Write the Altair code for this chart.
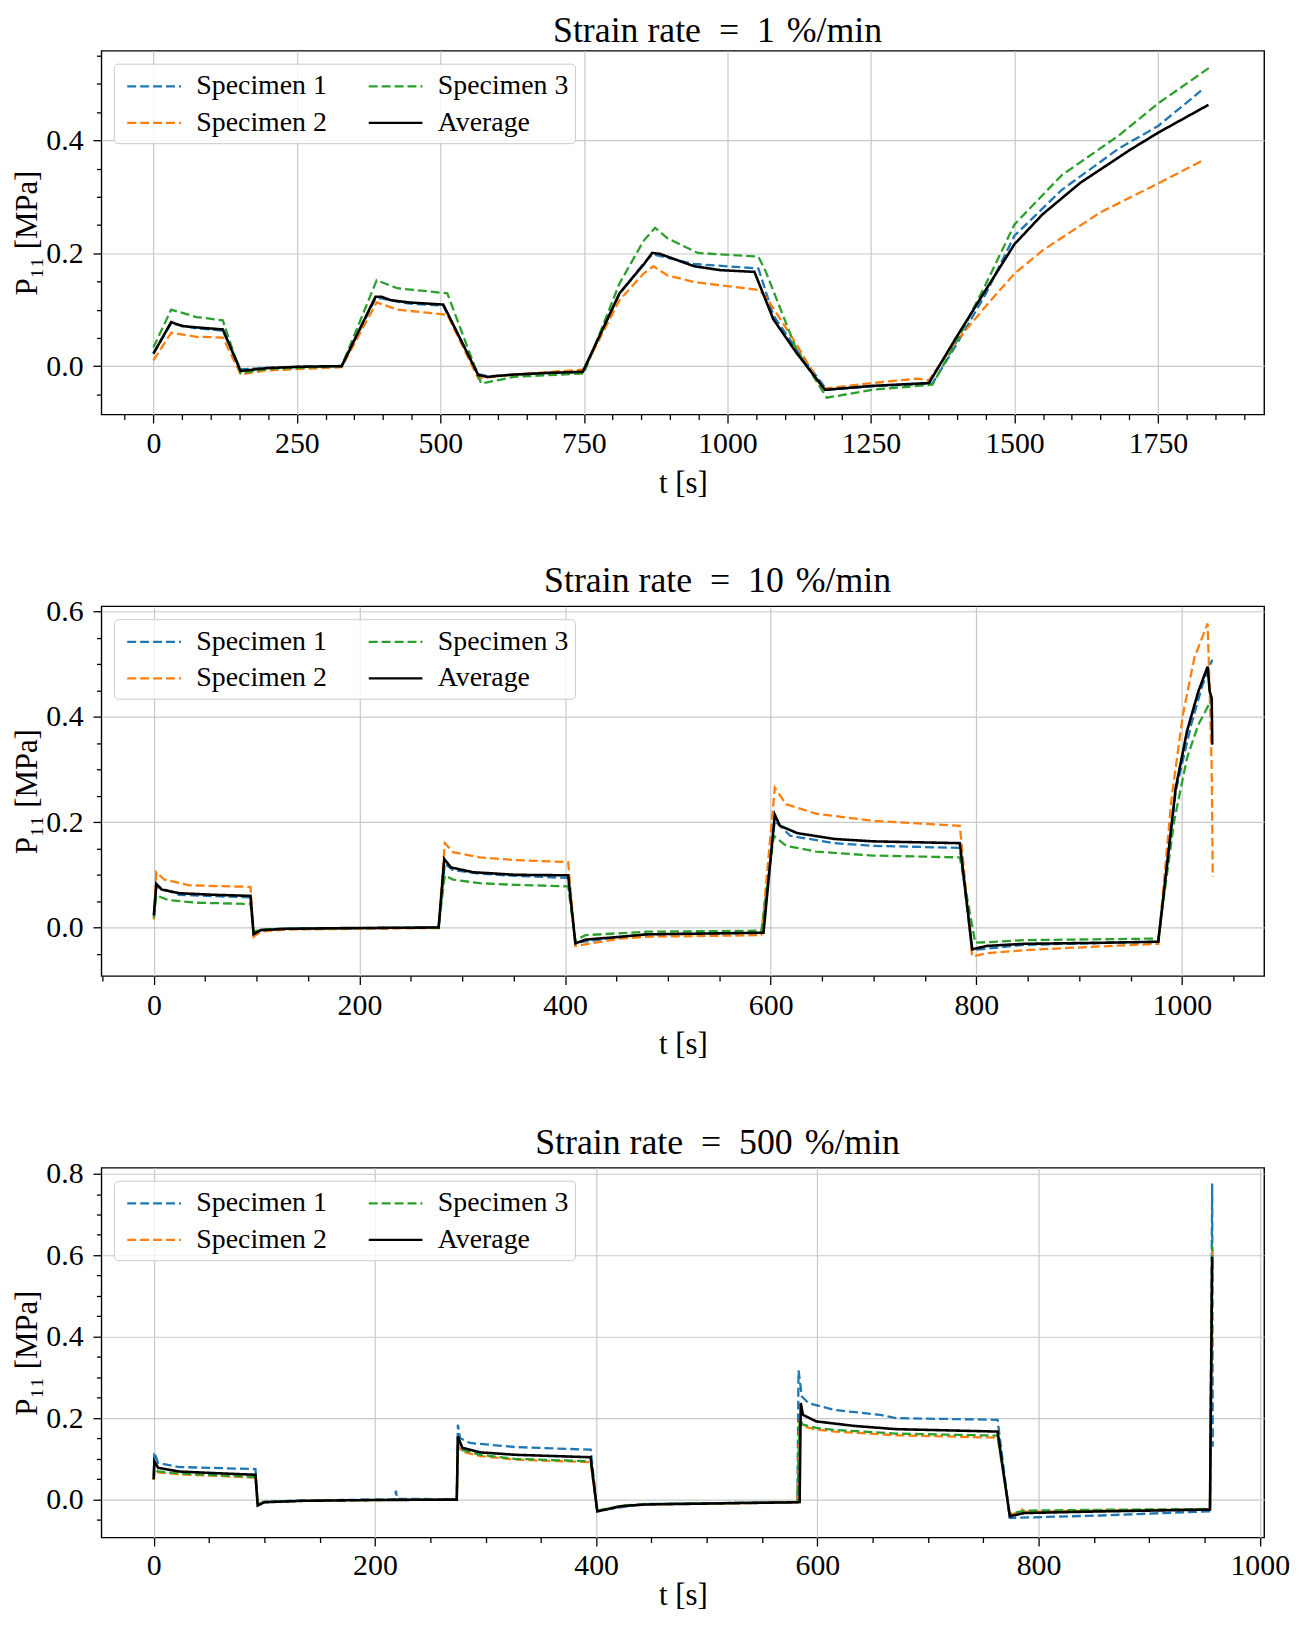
import altair as alt
import pandas as pd

# ---------------- legend / style categories ----------------
SERIES = ["Specimen 1", "Specimen 2", "Specimen 3", "Average"]
COLORS = ["#1f77b4", "#ff7f0e", "#2ca02c", "#000000"]
DASHES = [[9, 4], [9, 4], [9, 4], [1, 0]]

TITLES = ["Strain rate\u2002=\u20021\u2004%/min",
          "Strain rate\u2002=\u200210\u2004%/min",
          "Strain rate\u2002=\u2002500\u2004%/min"]

# ---------------- panel 1 : 1 %/min ----------------
r1_t_s1 = [0, 31, 75, 121, 152, 198, 259, 328, 387, 397, 443, 505, 566, 582, 628, 689, 748, 812, 854, 869,
           942, 1054, 1080, 1120, 1173, 1252, 1357, 1400, 1450, 1500, 1582, 1681, 1751, 1825]
r1_p_s1 = [0.022, 0.0756, 0.067, 0.063, -0.006, -0.003, -0.001, 0.0, 0.120, 0.120, 0.111, 0.107, -0.014, -0.018,
           -0.015, -0.012, -0.011, 0.128, 0.182, 0.198, 0.181, 0.173, 0.090, 0.030, -0.042, -0.036, -0.031, 0.040,
           0.128, 0.231, 0.312, 0.385, 0.426, 0.488]

r1_t_s2 = [0, 31, 75, 121, 152, 198, 328, 389, 425, 512, 566, 628, 750, 812, 854, 871, 895, 942, 1054, 1067,
           1120, 1166, 1252, 1331, 1351, 1397, 1450, 1500, 1549, 1649, 1751, 1831]
r1_p_s2 = [0.010, 0.059, 0.052, 0.0506, -0.0145, -0.0076, -0.002, 0.113, 0.100, 0.091, -0.022, -0.015, -0.006,
           0.117, 0.164, 0.177, 0.161, 0.149, 0.135, 0.123, 0.039, -0.040, -0.030, -0.022, -0.025, 0.042, 0.106,
           0.164, 0.205, 0.272, 0.324, 0.366]

r1_t_s3 = [0, 31, 75, 121, 152, 198, 328, 389, 425, 512, 571, 628, 750, 812, 854, 874, 895, 948, 1054, 1067,
           1120, 1173, 1252, 1357, 1400, 1450, 1500, 1582, 1681, 1751, 1844]
r1_p_s3 = [0.033, 0.100, 0.087, 0.081, -0.013, -0.005, 0.0, 0.152, 0.138, 0.129, -0.031, -0.019, -0.013, 0.1465,
           0.222, 0.245, 0.227, 0.2006, 0.194, 0.167, 0.030, -0.056, -0.042, -0.033, 0.045, 0.145, 0.251, 0.338,
           0.408, 0.466, 0.532]

r1_t_avg = [0, 31, 50, 75, 121, 152, 198, 259, 328, 387, 397, 413, 443, 505, 566, 582, 628, 689, 748, 812, 854,
            869, 882, 942, 988, 1047, 1080, 1120, 1170, 1252, 1351, 1397, 1450, 1500, 1549, 1615, 1701, 1751, 1838]
r1_p_avg = [0.022, 0.078, 0.071, 0.0686, 0.065, -0.0087, -0.0035, -0.001, 0.0, 0.123, 0.123, 0.117, 0.113, 0.109,
            -0.016, -0.019, -0.015, -0.012, -0.010, 0.129, 0.180, 0.2006, 0.199, 0.177, 0.170, 0.167, 0.083, 0.024,
            -0.042, -0.035, -0.030, 0.048, 0.135, 0.216, 0.269, 0.325, 0.383, 0.414, 0.463]

# ---------------- panel 2 : 10 %/min ----------------
r2_t_s1 = [0, 2.4, 25, 94, 97, 104, 128, 277, 283, 291, 317, 351, 403, 410, 454, 479, 591, 604, 619, 662, 699,
           784, 796, 846, 977, 994, 1009, 1020, 1029.5]
r2_p_s1 = [0.022, 0.078, 0.062, 0.057, -0.012, -0.005, -0.0025, 0.0, 0.121, 0.109, 0.102, 0.098, 0.094, -0.029,
           -0.018, -0.013, -0.010, 0.2025, 0.174, 0.160, 0.155, 0.151, -0.043, -0.033, -0.027, 0.259, 0.385, 0.460,
           0.508]

r2_t_s2 = [0, 2.4, 10, 35, 94, 97, 104, 128, 277, 283, 291, 317, 351, 403, 410, 454, 479, 591, 604, 615, 644, 699,
           784, 796, 810, 846, 920, 977, 990, 1001, 1012, 1025, 1027, 1029, 1030]
r2_p_s2 = [0.015, 0.105, 0.091, 0.080, 0.077, -0.0176, -0.008, -0.004, -0.001, 0.160, 0.143, 0.133, 0.128, 0.124,
           -0.035, -0.021, -0.0176, -0.0145, 0.265, 0.234, 0.216, 0.2025, 0.193, -0.055, -0.049, -0.043, -0.036,
           -0.031, 0.247, 0.404, 0.511, 0.577, 0.45, 0.30, 0.096]

r2_t_s3 = [0, 2.4, 14, 41, 89, 94, 97, 104, 128, 277, 283, 291, 317, 351, 403, 410, 420, 479, 591, 603, 615, 644,
           699, 784, 799, 846, 977, 992.5, 1005, 1016, 1029.5]
r2_p_s3 = [0.018, 0.061, 0.052, 0.047, 0.045, 0.045, -0.008, -0.004, -0.002, 0.0, 0.099, 0.091, 0.084, 0.081,
           0.078, -0.024, -0.0145, -0.008, -0.006, 0.174, 0.155, 0.144, 0.1365, 0.133, -0.029, -0.024, -0.021,
           0.2025, 0.322, 0.385, 0.435]

r2_t_avg = [0, 2.4, 7.6, 25, 59, 94, 97, 104, 128, 179, 277, 282.5, 289, 310, 351, 403, 410, 420, 454, 479, 591,
            593, 604, 609, 626, 662, 699, 784, 796, 810, 846, 920, 977, 994, 1005, 1016, 1025, 1027, 1029, 1029.5]
r2_p_avg = [0.023, 0.083, 0.072, 0.065, 0.062, 0.060, -0.0126, -0.005, -0.0025, -0.0013, 0.0, 0.130, 0.114, 0.105,
            0.100, 0.099, -0.030, -0.023, -0.0176, -0.013, -0.010, -0.010, 0.214, 0.193, 0.179, 0.168, 0.1635,
            0.160, -0.0415, -0.035, -0.031, -0.029, -0.027, 0.265, 0.373, 0.448, 0.495, 0.448, 0.435, 0.347]

# ---------------- panel 3 : 500 %/min ----------------
r3_t_s1 = [0, 0.5, 4, 23, 92, 94, 100, 135, 199, 218, 219, 220, 274, 275, 277, 286, 327, 395, 401, 444, 582, 583,
           586, 592, 616, 657, 671, 763, 774, 856, 955, 957, 957.5]
r3_p_s1 = [0.06, 0.116, 0.090, 0.080, 0.075, -0.012, -0.005, -0.002, 0.0, 0.001, 0.022, 0.002, 0.001, 0.184, 0.151,
           0.139, 0.129, 0.1225, -0.027, -0.011, -0.006, 0.317, 0.253, 0.237, 0.220, 0.208, 0.200, 0.196, -0.045,
           -0.039, -0.0286, 0.776, 0.13]

r3_t_s2 = [0, 0.5, 4, 23, 92, 94, 100, 135, 199, 274, 275, 279, 295, 327, 395, 401, 423, 444, 582, 584, 587, 599,
           616, 671, 763, 774, 783, 785, 787, 856, 955, 957]
r3_p_s2 = [0.048, 0.072, 0.067, 0.062, 0.054, -0.013, -0.006, -0.003, -0.001, 0.0, 0.130, 0.118, 0.107, 0.098,
           0.092, -0.028, -0.016, -0.012, -0.007, 0.190, 0.180, 0.172, 0.167, 0.158, 0.152, -0.037, -0.031, -0.024,
           -0.030, -0.027, -0.024, 0.61]

r3_t_s3 = [0, 0.5, 4, 23, 92, 94, 100, 135, 199, 274, 275, 279, 295, 327, 395, 401, 423, 444, 582, 584, 587, 599,
           616, 671, 763, 774, 787, 856, 955, 957]
r3_p_s3 = [0.05, 0.075, 0.069, 0.064, 0.0555, -0.012, -0.006, -0.003, -0.001, 0.0, 0.135, 0.122, 0.110, 0.100,
           0.094, -0.027, -0.015, -0.011, -0.006, 0.196, 0.184, 0.176, 0.171, 0.162, 0.157, -0.035, -0.027, -0.025,
           -0.023, 0.624]

r3_t_avg = [0, 0.6, 4, 23, 55, 92, 94, 100, 135, 199, 274, 275, 279, 295, 327, 395, 401, 423, 444, 582, 584, 585,
            587, 599, 633, 671, 763, 774, 787, 856, 955, 957]
r3_p_avg = [0.05, 0.094, 0.078, 0.069, 0.065, 0.061, -0.0147, -0.0065, -0.003, -0.001, 0.0, 0.155, 0.127, 0.116,
            0.110, 0.104, -0.029, -0.016, -0.012, -0.0065, -0.006, 0.237, 0.208, 0.192, 0.181, 0.173, 0.167, -0.041,
            -0.033, -0.029, -0.0245, 0.596]

# ---------------- axis ranges and tick values ----------------
X_DOMAINS = [[-90.5, 1935], [-51, 1080], [-47.3, 1004]]
Y_DOMAINS = [[-0.0857, 0.5588], [-0.092, 0.6095], [-0.093, 0.8147]]
X_MAJOR = [250, 200, 200]
Y_MAJOR = [0.2, 0.2, 0.2]
X_TICKS = [list(range(-50, 1901, 50)), list(range(-50, 1051, 50)), list(range(0, 1001, 50))]
Y_TICKS = [[round(-0.05 + 0.05 * k, 2) for k in range(13)],
           [round(-0.05 + 0.05 * k, 2) for k in range(14)],
           [round(-0.05 + 0.05 * k, 2) for k in range(18)]]

FONT = "Liberation Serif"
PLOT_W = 1170
PLOT_H = [366, 372, 372]
TITLE_GAP = [9, 14, 14]
XTITLE_PAD = [10, 10, 0]
XLABEL_PAD = [6, 6, 5]


def make_df(items):
    rows = []
    for name, ts, ps in items:
        for i, (t, p) in enumerate(zip(ts, ps)):
            rows.append({"t": t, "p": p, "series": name, "i": i})
    return pd.DataFrame(rows)


def major_test(step):
    return f"abs(datum.value / {step} - round(datum.value / {step})) < 1e-6"


def make_axis(values, step, fmt, title, title_pad, label_pad):
    test = major_test(step)
    return alt.Axis(
        values=values,
        title=title,
        labelExpr=f"{test} ? format(datum.value, '{fmt}') : ''",
        labelFontSize={"condition": {"test": test, "value": 30}, "value": 1},
        tickSize={"condition": {"test": test, "value": 8.5}, "value": 5},
        gridOpacity={"condition": {"test": test, "value": 1}, "value": 0},
        labelOverlap=False,
        labelFlush=False,
        labelPadding=label_pad,
        titlePadding=title_pad,
    )


def panel(df, k):
    legend = alt.Legend(
        title=None, orient="none", legendX=12.5, legendY=13, columns=2,
        symbolType="M-1.8,0H1.8", symbolSize=900, symbolStrokeWidth=2.3, symbolOffset=18,
        labelFont=FONT, labelFontSize=28, labelColor="black", labelOffset=26, labelLimit=0,
        columnPadding=34, rowPadding=6, padding=6, cornerRadius=4,
        strokeColor="#cccccc", fillColor="rgba(255,255,255,0.8)",
    )
    x = alt.X("t:Q", scale=alt.Scale(domain=X_DOMAINS[k], nice=False, zero=False),
              axis=make_axis(X_TICKS[k], X_MAJOR[k], "d", "t [s]", XTITLE_PAD[k], XLABEL_PAD[k]))
    y = alt.Y("p:Q", scale=alt.Scale(domain=Y_DOMAINS[k], nice=False, zero=False),
              axis=make_axis(Y_TICKS[k], Y_MAJOR[k], ".1f", "P₁₁ [MPa]", 2, 10))
    color = alt.Color("series:N", scale=alt.Scale(domain=SERIES, range=COLORS), legend=legend)
    dash = alt.StrokeDash("series:N", scale=alt.Scale(domain=SERIES, range=DASHES), legend=legend)
    base = alt.Chart(df).encode(x=x, y=y, color=color, strokeDash=dash, order=alt.Order("i:Q"))
    spec = base.transform_filter("datum.series != 'Average'").mark_line(strokeWidth=2.3, clip=True)
    avg = base.transform_filter("datum.series == 'Average'").mark_line(strokeWidth=2.6, clip=True)
    head = alt.Chart(pd.DataFrame({"title": [TITLES[k]]})).mark_text(
        font=FONT, fontSize=36, baseline="alphabetic", align="center", color="black"
    ).encode(text="title:N", x=alt.value(PLOT_W / 2 + 35), y=alt.value(-TITLE_GAP[k]))
    return alt.layer(spec, avg, head).properties(width=PLOT_W, height=PLOT_H[k])


df1 = make_df([("Specimen 1", r1_t_s1, r1_p_s1), ("Specimen 2", r1_t_s2, r1_p_s2),
               ("Specimen 3", r1_t_s3, r1_p_s3), ("Average", r1_t_avg, r1_p_avg)])
df2 = make_df([("Specimen 1", r2_t_s1, r2_p_s1), ("Specimen 2", r2_t_s2, r2_p_s2),
               ("Specimen 3", r2_t_s3, r2_p_s3), ("Average", r2_t_avg, r2_p_avg)])
df3 = make_df([("Specimen 1", r3_t_s1, r3_p_s1), ("Specimen 2", r3_t_s2, r3_p_s2),
               ("Specimen 3", r3_t_s3, r3_p_s3), ("Average", r3_t_avg, r3_p_avg)])

chart = alt.vconcat(panel(df1, 0), panel(df2, 1), panel(df3, 2), spacing=63).resolve_scale(
    x="independent", y="independent", color="independent", strokeDash="independent"
).resolve_legend(
    color="independent", strokeDash="independent"
).properties(
    padding={"left": 3, "top": -1, "right": 0, "bottom": 0}
).configure_view(
    stroke="black", strokeWidth=1.4
).configure_axis(
    domain=False, tickColor="black", tickWidth=1.3, grid=True,
    gridColor="#c9c9c9", gridWidth=1.2,
    labelFont=FONT, titleFont=FONT, titleFontSize=31,
    titleFontWeight="normal", labelColor="black", titleColor="black",
)

chart.save("out.html", embed_options={"renderer": "svg", "actions": False})
